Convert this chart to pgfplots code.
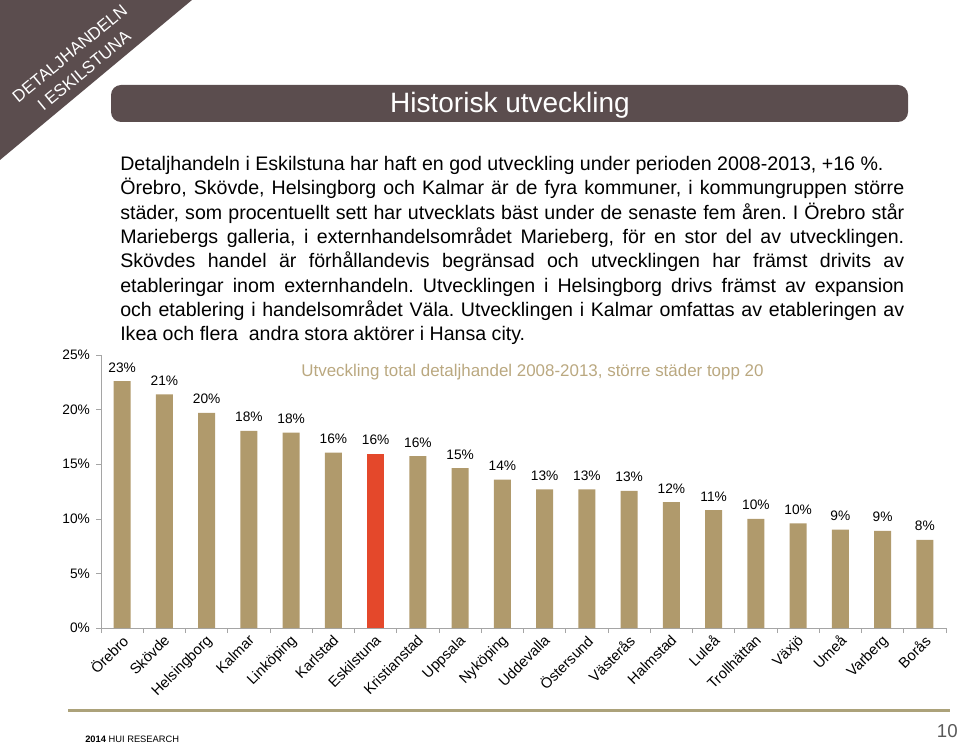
\documentclass[border=0pt]{standalone}
\usepackage{fontspec}
\setmainfont{Liberation Sans}
\usepackage{pgfplots}
\pgfplotsset{compat=1.18}
\pgfkeys{/pgf/number format/assume math mode=true}
\frenchspacing
\definecolor{slide}{RGB}{91,77,78}
\definecolor{tanbar}{RGB}{176,154,108}
\definecolor{tantitle}{RGB}{186,168,128}
\definecolor{hired}{RGB}{228,72,43}
\definecolor{axgray}{RGB}{165,165,165}
\definecolor{rulecol}{RGB}{172,162,122}
\definecolor{pgnum}{RGB}{89,89,89}
\begin{document}
\begin{tikzpicture}
\useasboundingbox (0,0) rectangle (720pt,-558.75pt);
\begin{scope}[x=0.75pt,y=-0.75pt]
\fill[slide] (0,0) -- (192,0) -- (0,160) -- cycle;
\node[white, rotate=39.5, align=center, font=\fontsize{12.7}{17}\selectfont, inner sep=0] at (77,62) {DETALJHANDELN\\I ESKILSTUNA};
\fill[slide, rounded corners=7.5pt] (111,85) rectangle (908,122);
\node[white, anchor=base, inner sep=0, font=\fontsize{21}{25}\selectfont] at (510,113) {Historisk utveckling};
\begin{scope}[every node/.style={anchor=base west, inner sep=0, font=\fontsize{14.7}{18}\selectfont}]
\node at (120,171) {Detaljhandeln i Eskilstuna har haft en god utveckling under perioden 2008-2013, +16 \%.};
\node at (120,195) {\makebox[588pt][s]{Örebro, Skövde, Helsingborg och Kalmar är de fyra kommuner, i kommungruppen större}};
\node at (120,219.5) {\makebox[588pt][s]{städer, som procentuellt sett har utvecklats bäst under de senaste fem åren. I Örebro står}};
\node at (120,243.5) {\makebox[588pt][s]{Mariebergs galleria, i externhandelsområdet Marieberg, för en stor del av utvecklingen.}};
\node at (120,268) {\makebox[588pt][s]{Skövdes handel är förhållandevis begränsad och utvecklingen har främst drivits av}};
\node at (120,292) {\makebox[588pt][s]{etableringar inom externhandeln. Utvecklingen i Helsingborg drivs främst av expansion}};
\node at (120,316) {\makebox[588pt][s]{och etablering i handelsområdet Väla. Utvecklingen i Kalmar omfattas av etableringen av}};
\node at (120,340.5) {Ikea och flera\ \ andra stora aktörer i Hansa city.};
\end{scope}
\node[tantitle, anchor=base, inner sep=0, font=\fontsize{12.7}{15}\selectfont] at (532.5,376) {Utveckling total detaljhandel 2008-2013, större städer topp 20};
\draw[rulecol, line width=2.25pt] (68,710) -- (950,710);
\node[anchor=base east, inner sep=0, pgnum, font=\fontsize{14}{16}\selectfont] at (958,737) {10};
\node[anchor=base west, inner sep=0, font=\fontsize{7}{8}\selectfont] at (85,742) {\textbf{2014} HUI RESEARCH};
\end{scope}
\begin{axis}[at={(75.75pt,-471pt)}, anchor=south west, scale only axis,
  width=633.75pt, height=204.75pt,
  xmin=-0.5, xmax=19.5, ymin=0, ymax=25,
  axis x line=bottom, axis y line=left, axis line style={axgray, -},
  ytick={0,5,...,25}, yticklabel={\pgfmathprintnumber{\tick}\%},
  xtick={0,...,19},
  xticklabels={Örebro,Skövde,Helsingborg,Kalmar,Linköping,Karlstad,Eskilstuna,Kristianstad,Uppsala,Nyköping,Uddevalla,Östersund,Västerås,Halmstad,Luleå,Trollhättan,Växjö,Umeå,Varberg,Borås},
  minor xtick={-0.5,0.5,...,19.5},
  tick align=outside, major tick length=3.75pt, minor tick length=3.75pt,
  tick style={axgray, thin},
  major x tick style={draw=none},
  xticklabel style={rotate=45, anchor=north east, font=\fontsize{11}{13}\selectfont, inner sep=1pt, yshift=1.5pt, xshift=0pt},
  yticklabel style={font=\fontsize{10.3}{12}\selectfont, xshift=-1pt},
  clip=false,
  nodes near coords={\pgfmathprintnumber[fixed,precision=0]{\pgfplotspointmeta}\%},
  nodes near coords style={anchor=base, yshift=6.75pt, inner sep=0, font=\fontsize{10.3}{12}\selectfont, black},
]
\addplot[ybar, bar width=0.4, bar shift=0pt, fill=tanbar, draw=none] coordinates {
(0,22.6) (1,21.4) (2,19.7) (3,18.05) (4,17.9) (5,16.07) (7,15.73) (8,14.63) (9,13.59)
(10,12.7) (11,12.7) (12,12.55) (13,11.53) (14,10.8) (15,10.0) (16,9.58) (17,9.0) (18,8.9) (19,8.08)};
\addplot[ybar, bar width=0.4, bar shift=0pt, fill=hired, draw=none] coordinates {(6,15.98)};
\end{axis}
\end{tikzpicture}
\end{document}
